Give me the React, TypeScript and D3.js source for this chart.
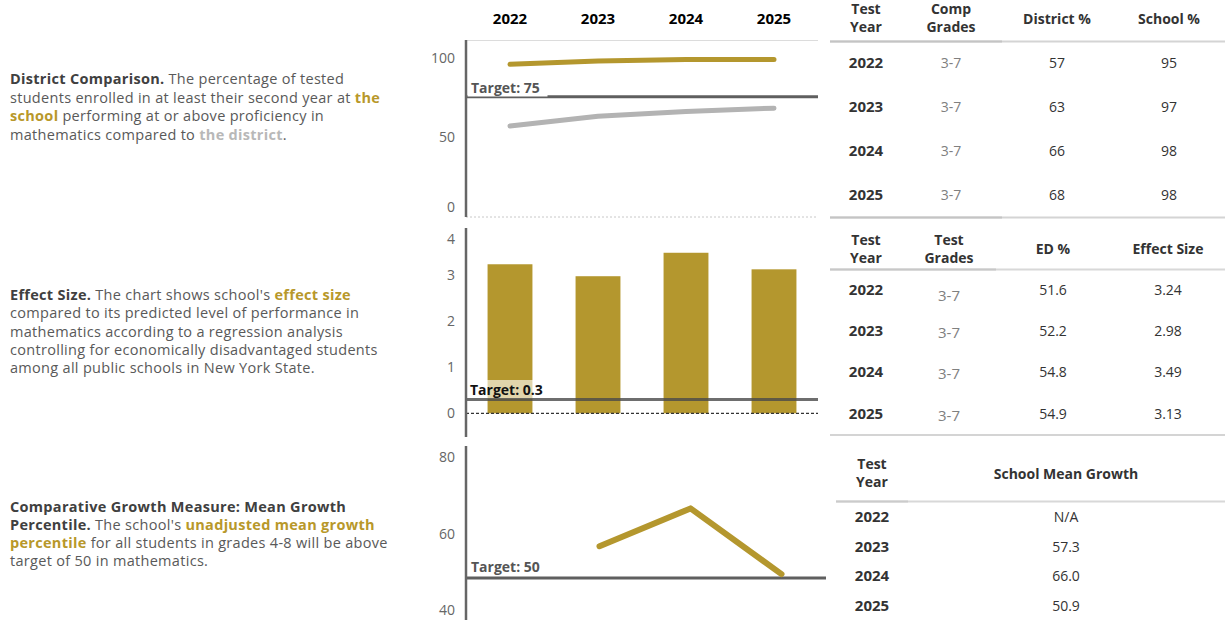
import React from "react";
import * as d3 from "d3";

const years = ["2022", "2023", "2024", "2025"];
const schoolPct = [95, 97, 98, 98];
const districtPct = [57, 63, 66, 68];
const compGrades = ["3-7", "3-7", "3-7", "3-7"];
const edPct = ["51.6", "52.2", "54.8", "54.9"];
const effectSize = [3.24, 2.98, 3.49, 3.13];
const meanGrowth: (number | null)[] = [null, 57.3, 66.0, 50.9];
const meanGrowthLabels = ["N/A", "57.3", "66.0", "50.9"];
const targetProf = 75;
const targetEffect = 0.3;
const targetGrowth = 50;
const ticks1 = [0, 50, 100];
const ticks2 = [0, 1, 2, 3, 4];
const ticks3 = [40, 60, 80];

const FONT = "'Open Sans', sans-serif";
const GOLD = "#b4972e";
const GOLD_TEXT = "#b8982a";
const GRAY_LINE = "#b3b3b3";
const BODY = "#595959";
const TITLE = "#404040";
const AXIS = "#666666";
const TARGET = "#5f5f5f";

type Seg = { t: string; kind?: "b" | "g" | "d" };

const para1: Seg[][] = [
  [{ t: "District Comparison.", kind: "b" }, { t: " The percentage of tested" }],
  [{ t: "students enrolled in at least their second year at " }, { t: "the", kind: "g" }],
  [{ t: "school", kind: "g" }, { t: " performing at or above proficiency in" }],
  [{ t: "mathematics compared to " }, { t: "the district", kind: "d" }, { t: "." }],
];
const para2: Seg[][] = [
  [{ t: "Effect Size.", kind: "b" }, { t: " The chart shows school's " }, { t: "effect size", kind: "g" }],
  [{ t: "compared to its predicted level of performance in" }],
  [{ t: "mathematics according to a regression analysis" }],
  [{ t: "controlling for economically disadvantaged students" }],
  [{ t: "among all public schools in New York State." }],
];
const para3: Seg[][] = [
  [{ t: "Comparative Growth Measure: Mean Growth", kind: "b" }],
  [{ t: "Percentile.", kind: "b" }, { t: " The school's " }, { t: "unadjusted mean growth", kind: "g" }],
  [{ t: "percentile", kind: "g" }, { t: " for all students in grades 4-8 will be above" }],
  [{ t: "target of 50 in mathematics." }],
];

function Para({ lines, y0, step }: { lines: Seg[][]; y0: number; step: number }) {
  return (
    <text x={10} y={y0} fontFamily={FONT} fontSize={14.5} letterSpacing={0.3} fill={BODY}>
      {lines.map((ln, i) => (
        <tspan key={i} x={10} y={y0 + i * step}>
          {ln.map((s, j) => (
            <tspan
              key={j}
              fontWeight={s.kind ? 700 : 400}
              fill={s.kind === "b" ? TITLE : s.kind === "g" ? GOLD_TEXT : s.kind === "d" ? "#b8b8b8" : BODY}
            >
              {s.t}
            </tspan>
          ))}
        </tspan>
      ))}
    </text>
  );
}

function TickLabels({ ticks, y, lo, hi }: { ticks: number[]; y: (v: number) => number; lo: number; hi: number }) {
  return (
    <g>
      {ticks.map((t) => (
        <text
          key={t}
          x={455}
          y={Math.max(lo, Math.min(hi, y(t)))}
          dy="0.35em"
          textAnchor="end"
          fontFamily={FONT}
          fontSize={14}
          fill={AXIS}
        >
          {t}
        </text>
      ))}
    </g>
  );
}

export default function App() {
  const x = d3.scaleBand<string>().domain(years).range([466, 818]).paddingInner(0.49).paddingOuter(0.245);
  const cx = (i: number) => (x(years[i]) as number) + x.bandwidth() / 2;
  const x3 = d3.scaleBand<string>().domain(years).range([463, 827]).paddingInner(0.49).paddingOuter(0.245);
  const cx3 = (i: number) => (x3(years[i]) as number) + x3.bandwidth() / 2;

  const y1 = d3.scaleLinear().domain([0, 110]).range([218.5, 40]);
  const y2 = d3.scaleLinear().domain([0, 4]).range([413.3, 229.3]);
  const y3 = d3.scaleLinear().domain([40, 80]).range([621.5, 447.5]);

  const lineSchool = d3.line<number>().x((_, i) => cx(i)).y((d) => y1(d));
  const lineDistrict = d3.line<number>().x((_, i) => cx(i)).y((d) => y1(d));
  const lineGrowth = d3
    .line<number | null>()
    .defined((d) => d != null)
    .x((_, i) => cx3(i))
    .y((d) => y3(d as number));

  const hdr = { fontFamily: FONT, fontSize: 14, fontWeight: 700, fill: "#333" } as const;
  const yearCell = { fontFamily: FONT, fontSize: 15, fontWeight: 700, fill: "#333" } as const;
  const valCell = { fontFamily: FONT, fontSize: 14, fill: "#333" } as const;
  const gradeCell = { fontFamily: FONT, fontSize: 14, fill: "#808080" } as const;

  const rows1 = [63, 107, 151, 195];
  const rows2 = [290, 331, 372, 414];
  const rows3 = [517, 547, 576, 606];

  return (
    <svg
      width={1225}
      height={620}
      style={{ position: "absolute", left: 0, top: 0, background: "#fff" }}
      fontFamily={FONT}
    >
      <rect x={0} y={0} width={1225} height={620} fill="#fff" />
      {/* Left descriptions */}
      <Para lines={para1} y0={84} step={18.6} />
      <Para lines={para2} y0={300} step={18.3} />
      <Para lines={para3} y0={511.5} step={18.3} />

      {/* Year headers */}
      {years.map((yr, i) => (
        <text key={yr} x={cx(i)} y={19} dy="0.35em" textAnchor="middle" fontFamily={FONT} fontSize={15} fontWeight={700} fill="#000">
          {yr}
        </text>
      ))}

      {/* Chart 1 */}
      <line x1={466} x2={818} y1={40.5} y2={40.5} stroke="#dcdcdc" strokeWidth={1} />
      <line x1={466} x2={818} y1={217} y2={217} stroke="#c8c8c8" strokeWidth={1} strokeDasharray="2,2" />
      <TickLabels ticks={ticks1} y={y1} lo={58} hi={207} />
      <line x1={466} x2={818} y1={y1(targetProf)} y2={y1(targetProf)} stroke={TARGET} strokeWidth={3} />
      <rect x={467.5} y={78} width={80} height={y1(targetProf) - 78 - 0.3} fill="#fff" />
      <text x={471} y={88} dy="0.35em" fontFamily={FONT} fontSize={14} fontWeight={700} fill="#555">
        Target: {targetProf}
      </text>
      <path d={lineDistrict(districtPct) || ""} fill="none" stroke={GRAY_LINE} strokeWidth={5} strokeLinecap="round" strokeLinejoin="round" />
      <path d={lineSchool(schoolPct) || ""} fill="none" stroke={GOLD} strokeWidth={5} strokeLinecap="round" strokeLinejoin="round" />
      <line x1={466} x2={466} y1={40} y2={217} stroke={AXIS} strokeWidth={2.5} />

      {/* Chart 2 */}
      <TickLabels ticks={ticks2} y={y2} lo={239} hi={430} />
      {effectSize.map((v, i) => (
        <rect key={i} x={x(years[i])} y={y2(v)} width={x.bandwidth()} height={y2(0) - y2(v)} fill={GOLD} />
      ))}
      <line x1={466} x2={818} y1={y2(0)} y2={y2(0)} stroke="#333" strokeWidth={1.2} strokeDasharray="3,2" />
      <rect x={467} y={380} width={80} height={y2(targetEffect) - 380 - 0.5} fill="#fff" fillOpacity={0.6} />
      <line x1={466} x2={818} y1={y2(targetEffect)} y2={y2(targetEffect)} stroke="#4a4a4a" strokeOpacity={0.8} strokeWidth={3} />
      <text x={470} y={390} dy="0.35em" fontFamily={FONT} fontSize={14} fontWeight={700} fill="#111">
        Target: {targetEffect}
      </text>
      <line x1={466} x2={466} y1={228} y2={437} stroke={AXIS} strokeWidth={2.5} />

      {/* Chart 3 */}
      <TickLabels ticks={ticks3} y={y3} lo={457} hi={610} />
      <line x1={466} x2={826} y1={y3(targetGrowth)} y2={y3(targetGrowth)} stroke={TARGET} strokeWidth={3} />
      <text x={471} y={567} dy="0.35em" fontFamily={FONT} fontSize={14} fontWeight={700} fill="#555">
        Target: {targetGrowth}
      </text>
      <path d={lineGrowth(meanGrowth) || ""} fill="none" stroke={GOLD} strokeWidth={6} strokeLinecap="round" strokeLinejoin="round" />
      <line x1={466} x2={466} y1={446} y2={620} stroke={AXIS} strokeWidth={2.5} />

      {/* Table 1 */}
      <g>
        <text x={866} y={9} dy="0.35em" textAnchor="middle" {...hdr}>Test</text>
        <text x={866} y={27} dy="0.35em" textAnchor="middle" {...hdr}>Year</text>
        <text x={951} y={9} dy="0.35em" textAnchor="middle" {...hdr}>Comp</text>
        <text x={951} y={27} dy="0.35em" textAnchor="middle" {...hdr}>Grades</text>
        <text x={1057} y={19} dy="0.35em" textAnchor="middle" {...hdr}>District %</text>
        <text x={1169} y={19} dy="0.35em" textAnchor="middle" {...hdr}>School %</text>
        <line x1={830} x2={1225} y1={41.5} y2={41.5} stroke="#d4d4d4" strokeWidth={2} />
        <line x1={830} x2={1002} y1={41.5} y2={41.5} stroke="#c4c4c4" strokeWidth={2} />
        {years.map((yr, i) => (
          <g key={yr}>
            <text x={866} y={rows1[i]} dy="0.35em" textAnchor="middle" {...yearCell}>{yr}</text>
            <text x={951} y={rows1[i]} dy="0.35em" textAnchor="middle" {...gradeCell}>{compGrades[i]}</text>
            <text x={1057} y={rows1[i]} dy="0.35em" textAnchor="middle" {...valCell}>{districtPct[i]}</text>
            <text x={1169} y={rows1[i]} dy="0.35em" textAnchor="middle" {...valCell}>{schoolPct[i]}</text>
          </g>
        ))}
        <line x1={830} x2={1225} y1={217.5} y2={217.5} stroke="#d4d4d4" strokeWidth={2} />
        <line x1={830} x2={1002} y1={217.5} y2={217.5} stroke="#c4c4c4" strokeWidth={2} />
      </g>

      {/* Table 2 */}
      <g>
        <text x={866} y={240} dy="0.35em" textAnchor="middle" {...hdr}>Test</text>
        <text x={866} y={258} dy="0.35em" textAnchor="middle" {...hdr}>Year</text>
        <text x={949} y={240} dy="0.35em" textAnchor="middle" {...hdr}>Test</text>
        <text x={949} y={258} dy="0.35em" textAnchor="middle" {...hdr}>Grades</text>
        <text x={1053} y={249} dy="0.35em" textAnchor="middle" {...hdr}>ED %</text>
        <text x={1168} y={249} dy="0.35em" textAnchor="middle" {...hdr}>Effect Size</text>
        <line x1={830} x2={1225} y1={269.5} y2={269.5} stroke="#d8d8d8" strokeWidth={2} />
        <line x1={830} x2={996} y1={269.5} y2={269.5} stroke="#c8c8c8" strokeWidth={2} />
        {years.map((yr, i) => (
          <g key={yr}>
            <text x={866} y={rows2[i]} dy="0.35em" textAnchor="middle" {...yearCell}>{yr}</text>
            <text x={949} y={rows2[i] + (i === 0 ? 6 : 1.5)} dy="0.35em" textAnchor="middle" {...gradeCell} fontSize={15}>{compGrades[i]}</text>
            <text x={1053} y={rows2[i]} dy="0.35em" textAnchor="middle" {...valCell}>{edPct[i]}</text>
            <text x={1168} y={rows2[i]} dy="0.35em" textAnchor="middle" {...valCell}>{effectSize[i].toFixed(2)}</text>
          </g>
        ))}
        <line x1={830} x2={1225} y1={435} y2={435} stroke="#d4d4d4" strokeWidth={2} />
      </g>

      {/* Table 3 */}
      <g>
        <text x={872} y={464} dy="0.35em" textAnchor="middle" {...hdr}>Test</text>
        <text x={872} y={482} dy="0.35em" textAnchor="middle" {...hdr}>Year</text>
        <text x={1066} y={474} dy="0.35em" textAnchor="middle" {...hdr}>School Mean Growth</text>
        <line x1={836} x2={1225} y1={501.5} y2={501.5} stroke="#d8d8d8" strokeWidth={2} />
        <line x1={836} x2={908} y1={501.5} y2={501.5} stroke="#cbcbcb" strokeWidth={2} />
        {years.map((yr, i) => (
          <g key={yr}>
            <text x={872} y={rows3[i]} dy="0.35em" textAnchor="middle" {...yearCell}>{yr}</text>
            <text x={1066} y={rows3[i]} dy="0.35em" textAnchor="middle" {...valCell}>{meanGrowthLabels[i]}</text>
          </g>
        ))}
      </g>
    </svg>
  );
}
